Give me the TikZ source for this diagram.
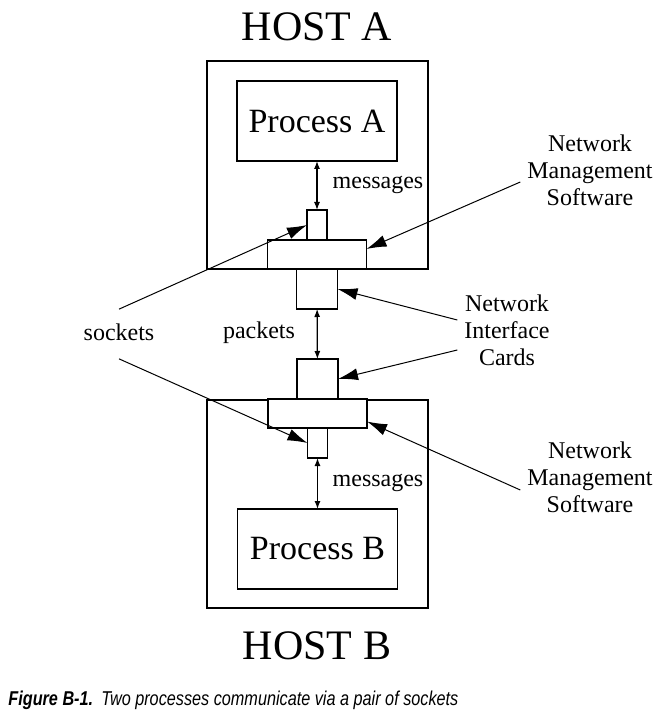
\documentclass[tikz,border=0pt]{standalone}
\usepackage{fontspec}
\setmainfont{Liberation Serif}
\newfontfamily\capfont{Liberation Sans}
\usetikzlibrary{positioning, arrows.meta}

\begin{document}
\begin{tikzpicture}[x = 0.5pt, y = -0.5pt, node distance = 0pt,
    box/.style = {draw, line width = 0.65pt, outer sep = 0pt, inner sep = 0pt},
    host/.style = {box, minimum width = 110.5pt, minimum height = 104pt},
    proc/.style = {box, minimum width = 80pt, minimum height = 40pt, font = \fontsize{17}{20}\selectfont},
    sock/.style = {box, fill = white, minimum width = 10pt, minimum height = 15pt},
    nms/.style = {box, fill = white, minimum width = 49.5pt, minimum height = 14.5pt},
    nic/.style = {box, fill = white, minimum width = 20.5pt, minimum height = 20pt},
    title/.style = {font = \fontsize{21}{24}\selectfont},
    lbl/.style = {font = \fontsize{12}{13.5}\selectfont, align = center},
    ptr/.style = {-{Latex[length = 10pt, width = 6pt]}, line width = 0.5pt},
    msg/.style = {{Latex[length = 4pt, width = 3pt]}-{Latex[length = 4pt, width = 3pt]}, line width = 0.6pt}]
    \useasboundingbox (0, 0) rectangle (658, 711);

    \node[title](titleA) at (317, 27) {HOST A};
    \node[host](hostA) at (317.5, 165) {};
    \node[proc](procA) at (317, 121) {Process A};
    \node[sock](sockA) at (317, 225) {};
    \node[nms](nmsA) [below = of sockA] {};
    \node[nic](nicA) [below = of nmsA] {};

    \node[host](hostB) at (317.5, 504) {};
    \node[nic](nicB) at (317.5, 379) {};
    \node[nms](nmsB) [below = of nicB] {};
    \node[sock](sockB) [below = of nmsB] {};
    \node[proc](procB) at (317.5, 549) {Process B};
    \node[title](titleB) at (317, 646) {HOST B};

    \node[lbl](msgA) at (378, 185) {messages};
    \node[lbl](packets) at (259, 333) {packets};
    \node[lbl](msgB) at (378, 483) {messages};
    \node[lbl, inner sep = 7pt](sockLbl) at (119, 332) {sockets};
    \node[lbl](nmsLblA) at (590, 170) {Network\\Management\\Software};
    \node[lbl](nicLbl) at (507, 330) {Network\\Interface\\Cards};
    \node[lbl](nmsLblB) at (590, 477) {Network\\Management\\Software};

    \draw[msg](procA) -- (sockA);
    \draw[msg](nicA) -- (nicB);
    \draw[msg](sockB) -- (procB);

    \draw[ptr](sockLbl.north) -- (sockA.west);
    \draw[ptr]([yshift = -2pt]sockLbl.south) -- (sockB.west);
    \draw[ptr]([yshift = -6pt]nmsLblA.west) -- ([yshift = 2.75pt]nmsA.east);
    \draw[ptr]([yshift = 5pt]nicLbl.west) -- (nicA.east);
    \draw[ptr]([yshift = -10pt]nicLbl.west) -- (nicB.east);
    \draw[ptr]([yshift = -6.5pt]nmsLblB.west) -- ([yshift = -4pt]nmsB.east);

    \node[anchor = base west, inner sep = 0pt](caption) at (8, 705) {\resizebox{225pt}{\height}{\capfont\fontsize{10}{12}\selectfont\bfseries\itshape Figure B-1.\enspace\mdseries Two processes communicate via a pair of sockets}};
\end{tikzpicture}
\end{document}
